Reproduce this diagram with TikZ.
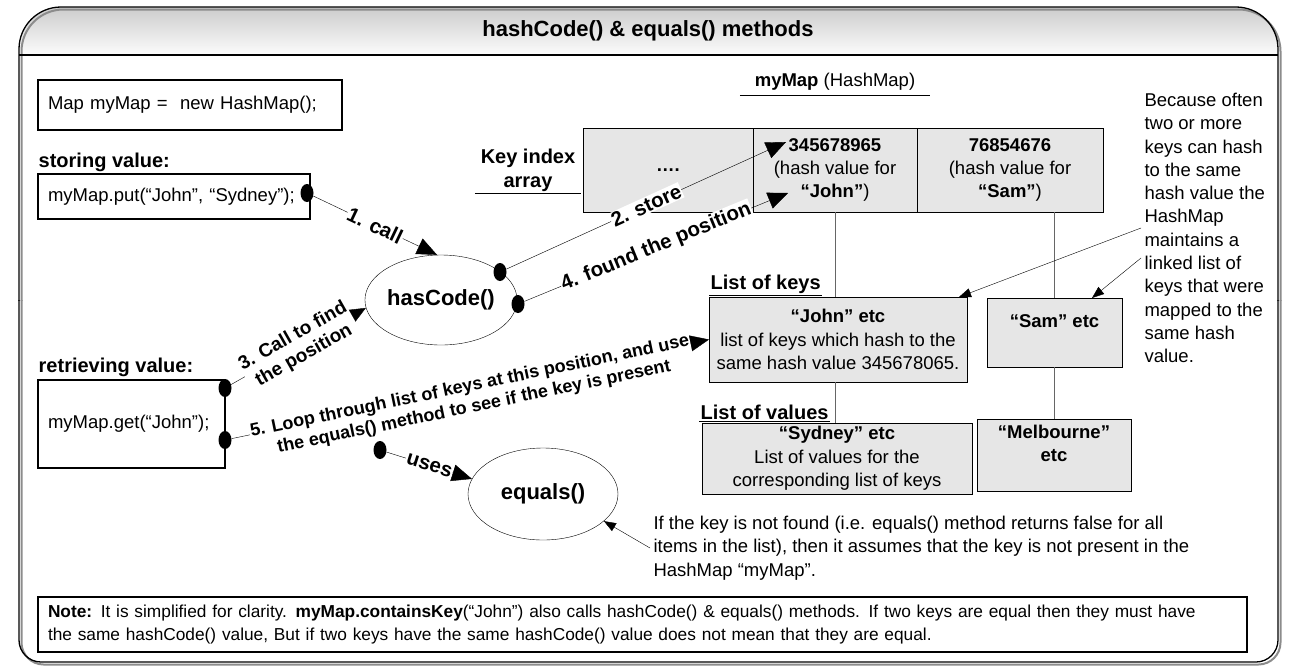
\documentclass[tikz,border=0pt]{standalone}
\usepackage{fontspec}
\setmainfont{Liberation Sans}
\usepackage{tikz}
\usetikzlibrary{positioning}
\usetikzlibrary{shapes.geometric}
\usetikzlibrary{arrows.meta}

\definecolor{cellgray}{HTML}{E6E6E6}
\definecolor{bandgray}{HTML}{C6C6C6}

\newcommand{\txtfont}{\fontsize{18.5}{23.3}\selectfont}
\newcommand{\hdrfont}{\fontsize{20}{24}\selectfont\bfseries}
\newcommand{\lblfont}{\fontsize{20.5}{22}\selectfont\bfseries}

\begin{document}
\begin{tikzpicture}[x=1pt, y=-1pt, font=\txtfont]
    \tikzstyle{code-box} = [draw, line width=2.5pt, rectangle, inner xsep=10pt, inner ysep=0pt, outer sep=0pt, align=left, anchor=north west];
    \tikzstyle{head} = [font=\hdrfont, inner sep=1.5pt];
    \tikzstyle{cell} = [draw, thin, fill=cellgray, rectangle, minimum height=84, inner sep=0pt, outer sep=0pt, align=center];
    \tikzstyle{method} = [draw, thin, ellipse, minimum width=147, minimum height=90, inner sep=0pt, font=\fontsize{22}{26}\selectfont\bfseries];
    \tikzstyle{dot} = [ellipse, fill=black, minimum width=13, minimum height=18, inner sep=0pt];
    \tikzstyle{call} = [thin, -{Triangle[length=20pt, width=17pt]}];
    \tikzstyle{note-arrow} = [thin, -{Triangle[length=12pt, width=9pt]}];
    \tikzstyle{edge-label} = [fill=white, sloped, inner sep=1pt, font=\lblfont];
    \tikzstyle{chain} = [thin, black!60];

    \useasboundingbox (0,0) rectangle (1294,670);

    % frame and title band
    \begin{scope}
        \clip[rounded corners=42] (19,7) rectangle (1278,97);
        \foreach \i in {0,...,47} {
            \pgfmathsetmacro{\bandpct}{90-\i*1.75}
            \fill[bandgray!\bandpct!white] (19,7+\i) rectangle (1278,8.2+\i);
        }
    \end{scope}
    \begin{scope}
        \clip (0,0) rectangle (1294,300);
        \draw[black!45, line width=2pt, rounded corners=42] (21.5,9.5) rectangle (1280.5,664.5);
        \draw[line width=1.3pt, rounded corners=42] (19,7) rectangle (1278,662);
    \end{scope}
    \begin{scope}
        \clip (0,300) rectangle (1294,670);
        \draw[black!45, line width=2pt, rounded corners=22] (21.5,9.5) rectangle (1280.5,664.5);
        \draw[line width=1.3pt, rounded corners=22] (19,7) rectangle (1278,662);
    \end{scope}
    \draw[line width=1.3pt] (19,55) -- (1278,55);
    \node[font=\fontsize{22}{26}\selectfont\bfseries] (title) at (648,31) {hashCode() \& equals() methods};

    % left side
    \node[code-box, minimum width=304, minimum height=50, text width=284] (decl-box) at (38,80) {Map myMap = \ new HashMap();};
    \node[head, anchor=west] (store-head) at (37,162) {storing value:};
    \node[code-box, minimum width=272, minimum height=45, text width=252] (put-box) at (38,174) {myMap.put(“John”, “Sydney”);};
    \node[head, anchor=west] (get-head) at (37,367) {retrieving value:};
    \node[code-box, minimum width=187, minimum height=88, text width=167] (get-box) at (38,380) {myMap.get(“John”);};

    \node[method] (hash-code) at (441,300) {hasCode()};
    \node[method, minimum width=150, minimum height=92] (equals) at (543,494) {equals()};

    \node[dot] (put-dot)   at (307,193) {};
    \node[dot] (store-dot) at (500,272) {};
    \node[dot] (found-dot) at (518,304) {};
    \node[dot] (find-dot)  at (225,388) {};
    \node[dot] (loop-dot)  at (225,440) {};
    \node[dot] (uses-dot)  at (380,450) {};

    % the map
    \node[minimum width=190, inner sep=4pt] (map-title) at (835,82) {\textbf{myMap} (HashMap)};
    \draw (map-title.south west) -- (map-title.south east);
    \node[head, align=center, minimum width=106] (array-title) at (528,170) {Key index\\array};
    \draw (array-title.south west) -- (array-title.south east);

    \node[cell, minimum width=170] (cell-dots) at (668,170) {\textbf{….}};
    \node[cell, minimum width=164, right=0pt of cell-dots] (cell-john) {\textbf{345678965}\\(hash value for\\\textbf{“John”})};
    \node[cell, minimum width=186, right=0pt of cell-john] (cell-sam) {\textbf{76854676}\\(hash value for\\\textbf{“Sam”})};

    \node[head, anchor=south west] (keys-title) at (709,295) {List of keys};
    \draw (keys-title.south west) -- (keys-title.south east);
    \node[cell, minimum width=258, minimum height=85, anchor=north west] (keys-box) at (709,297) {\textbf{“John” etc}\\list of keys which hash to the\\same hash value 345678065.};
    \node[cell, minimum width=135, minimum height=69, anchor=north west] (sam-box) at (987,298) {\textbf{“Sam” etc}\\\mbox{}};
    \node[head, anchor=south west] (values-title) at (699,421) {List of values};
    \draw (values-title.south west) -- (values-title.south east);
    \node[cell, minimum width=270, minimum height=71, anchor=north west] (values-box) at (702,423) {\textbf{“Sydney” etc}\\List of values for the\\corresponding list of keys};
    \node[cell, minimum width=154, minimum height=72, anchor=north west] (melb-box) at (977,419) {\textbf{“Melbourne”}\\\textbf{etc}\\\mbox{}};

    \draw[chain] (cell-john.south) -- (cell-john.south |- keys-box.north);
    \draw[chain] (keys-box.south -| cell-john.south) -- (values-box.north -| cell-john.south);
    \draw[chain] (sam-box.north |- cell-sam.south) -- (sam-box.north);
    \draw[chain] (sam-box.south) -- (sam-box.south |- melb-box.north);

    % notes
    \node[anchor=west, align=left] (why-text) at (1141,228) {Because often\\two or more\\keys can hash\\to the same\\hash value the\\HashMap\\maintains a\\linked list of\\keys that were\\mapped to the\\same hash\\value.};
    \draw[note-arrow] (why-text.west) -- ([xshift=-8pt]keys-box.north east);
    \draw[note-arrow] ([yshift=-30pt]why-text.west) -- ([xshift=-30pt]sam-box.north east);

    \node[anchor=west, align=left] (not-found) at (650,548) {If the key is not found (i.e. equals() method returns false for all\\items in the list), then it assumes that the key is not present in the\\HashMap “myMap”.};
    \draw[note-arrow] (not-found.west) -- (equals.-24);

    \node[code-box, minimum width=1209, minimum height=55, text width=1189, font=\fontsize{17.3}{23}\selectfont] (note-box) at (38,597) {\textbf{Note:} It is simplified for clarity. \textbf{myMap.containsKey}(“John”) also calls hashCode() \& equals() methods. If two keys are equal then they must have\\the same hashCode() value, But if two keys have the same hashCode() value does not mean that they are equal.};

    % calls
    \coordinate (store-tip) at (786,142);
    \coordinate (found-tip) at (788,193);
    \draw[call] (put-dot) -- node[edge-label] {1. call} (hash-code.95);
    \draw[call] (store-dot) -- node[edge-label] {2. store} (store-tip);
    \draw[call] (found-dot) -- node[edge-label] {4. found the position} (found-tip);
    \draw[call] (find-dot) -- node[edge-label, align=center, font=\fontsize{19}{22}\selectfont\bfseries] {3. Call to find\\the position} (hash-code.186);
    \draw[call] (loop-dot) -- node[edge-label, align=center, below=-12pt, font=\fontsize{18}{21}\selectfont\bfseries] {5. Loop through list of keys at this position, and use\\the equals() method to see if the key is present} (keys-box.west);
    \draw[call] (uses-dot) -- node[edge-label] {uses} (equals.168);
\end{tikzpicture}
\end{document}
